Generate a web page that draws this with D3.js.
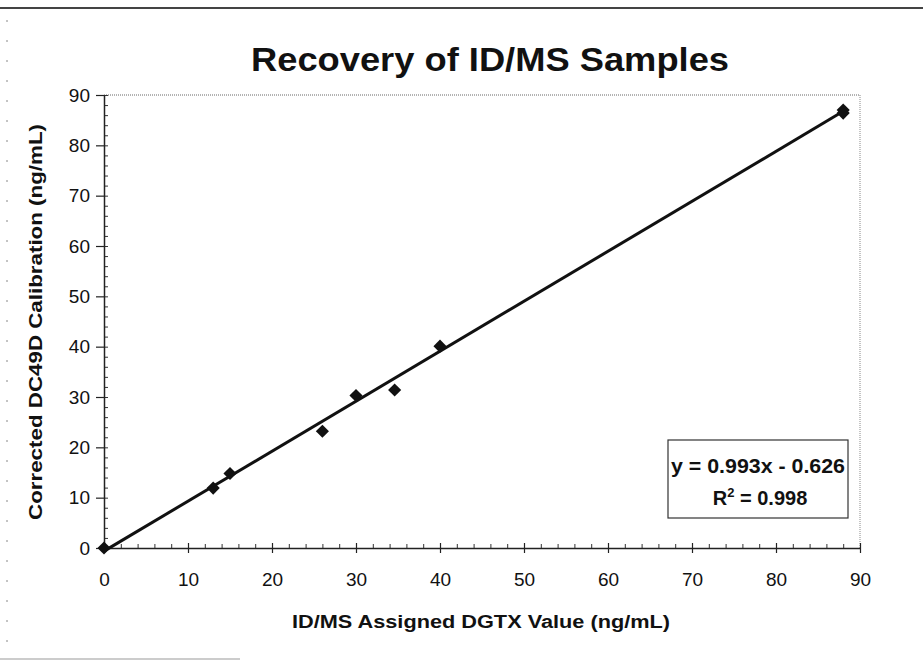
<!DOCTYPE html>
<html><head><meta charset="utf-8">
<script src="https://cdn.jsdelivr.net/npm/d3@7"></script>
<style>body{margin:0;background:#fff}svg{display:block}text{font-family:"Liberation Sans",Arial,sans-serif;fill:#111}</style>
</head><body><div id="chart"></div>
<script>
const xValues = [0, 13, 15, 26, 30, 34.6, 40, 88, 88];
const yValues = [0, 11.9, 14.8, 23.2, 30.3, 31.4, 40.1, 87, 86.4];
const tickValues = [0, 10, 20, 30, 40, 50, 60, 70, 80, 90];
const slope = 0.993, intercept = -0.626;
const equationText = "y = 0.993x - 0.626";
const r2Text = "0.998";
const titleText = "Recovery of ID/MS Samples";
const xLabel = "ID/MS Assigned DGTX Value (ng/mL)";
const yLabel = "Corrected DC49D Calibration (ng/mL)";

const W = 923, H = 661;
const m = {left:104, right:923-860, top:95, bottom:661-548};
const svg = d3.select("#chart").append("svg").attr("width",W).attr("height",H);

// page frame of scan
svg.append("line").attr("x1",0).attr("x2",W).attr("y1",8).attr("y2",8).attr("stroke","#444").attr("stroke-width",2);
svg.append("line").attr("x1",7).attr("x2",7).attr("y1",20).attr("y2",650).attr("stroke","#888").attr("stroke-width",1).attr("stroke-dasharray","2,18");
svg.append("line").attr("x1",0).attr("x2",240).attr("y1",659).attr("y2",659).attr("stroke","#999").attr("stroke-width",1);

const x = d3.scaleLinear().domain([0,90]).range([m.left, W-m.right]);
const y = d3.scaleLinear().domain([0,90]).range([H-m.bottom, m.top]);

// plot border (dotted top/right)
svg.append("line").attr("x1",x(0)).attr("x2",x(90)).attr("y1",y(90)).attr("y2",y(90)).attr("stroke","#666").attr("stroke-width",1).attr("stroke-dasharray","1,1");
svg.append("line").attr("x1",x(90)).attr("x2",x(90)).attr("y1",y(90)).attr("y2",y(0)).attr("stroke","#888").attr("stroke-width",1).attr("stroke-dasharray","1,1");

// minor ticks
const minor = d3.range(0, 91, 2);
const xAxisMinor = d3.axisBottom(x).tickValues(minor).tickSize(-4).tickFormat("");
const yAxisMinor = d3.axisLeft(y).tickValues(minor).tickSize(-4).tickFormat("");
svg.append("g").attr("transform",`translate(0,${y(0)})`).call(xAxisMinor).call(g=>{g.select(".domain").remove();g.selectAll("line").attr("stroke","#333");});
svg.append("g").attr("transform",`translate(${x(0)},0)`).call(yAxisMinor).call(g=>{g.select(".domain").remove();g.selectAll("line").attr("stroke","#333");});

// major axes
const xAxis = d3.axisBottom(x).tickValues(tickValues).tickSizeInner(5).tickSizeOuter(0).tickPadding(20);
const yAxis = d3.axisLeft(y).tickValues(tickValues).tickSizeInner(8).tickSizeOuter(0).tickPadding(6);
const gx = svg.append("g").attr("transform",`translate(0,${y(0)})`).call(xAxis);
gx.selectAll(".tick line").attr("y1",-5).attr("y2",5);
const gy = svg.append("g").attr("transform",`translate(${x(0)},0)`).call(yAxis);
gy.selectAll(".tick line").attr("x1",-8).attr("x2",0);
[gx,gy].forEach(g=>{
  g.select(".domain").attr("stroke","#222").attr("stroke-width",1.5);
  g.selectAll(".tick line").attr("stroke","#222").attr("stroke-width",1.2);
  g.selectAll(".tick text").attr("font-size",19).attr("font-family","'Liberation Sans',Arial,sans-serif").attr("fill","#111");
});
gx.selectAll(".tick text").attr("dy","0.71em");

// trendline
const xMin = d3.min(xValues), xMax = d3.max(xValues);
svg.append("line")
  .attr("x1",x(xMin)).attr("y1",y(slope*xMin+intercept))
  .attr("x2",x(xMax)).attr("y2",y(slope*xMax+intercept))
  .attr("stroke","#111").attr("stroke-width",3);

// points (diamonds)
const pts = xValues.map((v,i)=>({x:v,y:yValues[i]}));
svg.append("g").selectAll("path").data(pts).join("path")
  .attr("transform",d=>`translate(${x(d.x)},${y(d.y)})`)
  .attr("d",d3.symbol(d3.symbolDiamond2,110))
  .attr("fill","#111");

// title
svg.append("text").attr("x",490).attr("y",71).attr("text-anchor","middle")
  .attr("font-size",33).attr("font-weight","bold").attr("textLength",478).attr("lengthAdjust","spacingAndGlyphs").text(titleText);

// axis titles
svg.append("text").attr("x",481).attr("y",628).attr("text-anchor","middle")
  .attr("font-size",18).attr("font-weight","bold").attr("textLength",378).attr("lengthAdjust","spacingAndGlyphs").text(xLabel);
svg.append("text").attr("transform",`translate(42,322) rotate(-90)`).attr("text-anchor","middle")
  .attr("font-size",18).attr("font-weight","bold").attr("textLength",396).attr("lengthAdjust","spacingAndGlyphs").text(yLabel);

// equation box
svg.append("rect").attr("x",668).attr("y",440).attr("width",180).attr("height",78)
  .attr("fill","#fff").attr("stroke","#333").attr("stroke-width",1.2);
svg.append("text").attr("x",758).attr("y",473).attr("text-anchor","middle")
  .attr("font-size",20).attr("font-weight","bold").attr("textLength",174).attr("lengthAdjust","spacingAndGlyphs").text(equationText);
const r2 = svg.append("text").attr("x",760).attr("y",505).attr("text-anchor","middle")
  .attr("font-size",20).attr("font-weight","bold");
r2.append("tspan").text("R");
r2.append("tspan").attr("dy",-8).attr("font-size",13).text("2");
r2.append("tspan").attr("dy",8).text(" = " + r2Text);
</script>
</body></html>
